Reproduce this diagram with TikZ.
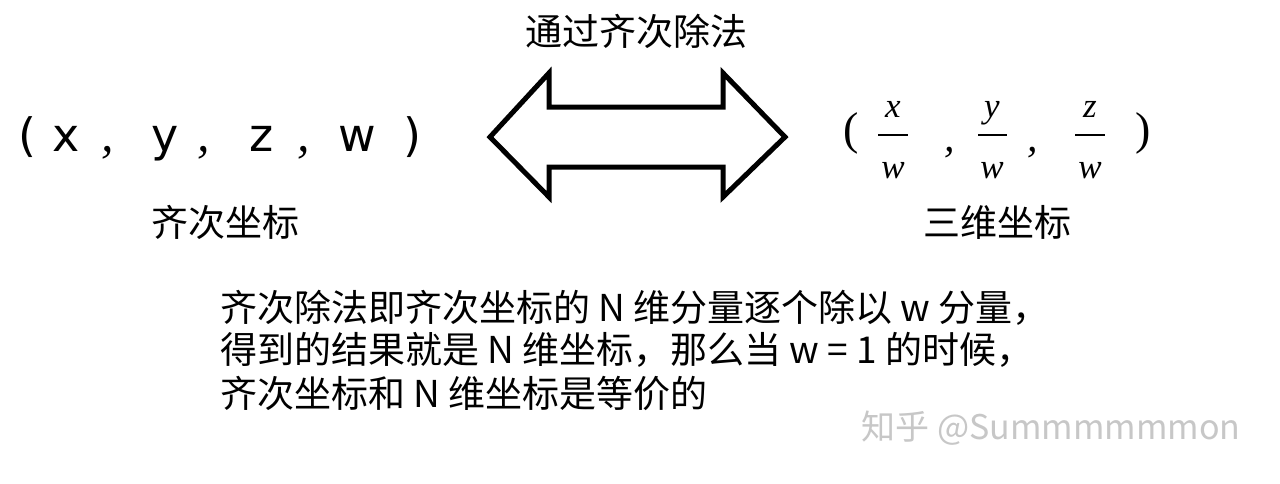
\documentclass[tikz,border=0pt]{standalone}
\usepackage{fontspec}
\setmainfont{Noto Sans CJK SC}
\newfontfamily\tuplefont{DejaVu Sans}
\newfontfamily\mathserif{Liberation Serif}
\begin{document}
\begin{tikzpicture}[x=1pt,y=-1pt,
  cjk/.style={inner sep=0pt, font=\fontsize{37}{44}\selectfont},
  para/.style={inner sep=0pt, anchor=west, font=\fontsize{37}{44}\selectfont},
  tuple/.style={inner sep=0pt, anchor=base, font=\tuplefont\fontsize{46}{52}\selectfont},
  tcomma/.style={inner sep=0pt, anchor=base, font=\mathserif\itshape\fontsize{50}{56}\selectfont},
  letter/.style={inner sep=0pt, anchor=base, font=\mathserif\itshape\fontsize{35}{40}\selectfont},
  fcomma/.style={inner sep=0pt, anchor=base, font=\mathserif\itshape\fontsize{42}{48}\selectfont},
  paren/.style={inner sep=0pt, font=\mathserif\fontsize{46}{50}\selectfont},
  fracbar/.style={line width=2.5pt},
  bigarrow/.style={draw=black, line width=5pt, line join=miter, fill=white},
  watermark/.style={inner sep=0pt, text=black!22, font=\fontsize{34}{40}\selectfont}]
\useasboundingbox[fill=white] (0,0) rectangle (1280,483);

% title
\node[cjk] (title) at (636,31) {通过齐次除法};

% homogeneous coordinates (x, y, z, w)
\node[tuple] (hl) at (27,151) {(};
\node[tuple] (hx) at (66,151) {x};
\node[tcomma] (hc1) at (108,151) {,};
\node[tuple] (hy) at (165,151) {y};
\node[tcomma] (hc2) at (204,151) {,};
\node[tuple] (hz) at (262,151) {z};
\node[tcomma] (hc3) at (304,151) {,};
\node[tuple] (hw) at (357,151) {w};
\node[tuple] (hr) at (412,151) {)};

% double arrow
\coordinate (tipL) at (490,137);
\coordinate (tipR) at (785,137);
\draw[bigarrow] (tipL) -- (549,73) -- (549,107) -- (723,107) -- (723,73)
  -- (tipR) -- (723,197) -- (723,167) -- (549,167) -- (549,197) -- cycle;

% three-dimensional coordinates
\node[paren] (lp) at (851,133) {(};
\node[letter] (nx) at (893,117) {x};
\coordinate (bx1) at (878,135); \coordinate (bx2) at (908,135);
\draw[fracbar] (bx1) -- (bx2);
\node[letter] (dx) at (893,178) {w};
\node[fcomma] (c1) at (950,151) {,};
\node[letter] (ny) at (992,117) {y};
\coordinate (by1) at (978,135); \coordinate (by2) at (1007,135);
\draw[fracbar] (by1) -- (by2);
\node[letter] (dy) at (992,178) {w};
\node[fcomma] (c2) at (1033,151) {,};
\node[letter] (nz) at (1090,117) {z};
\coordinate (bz1) at (1075,135); \coordinate (bz2) at (1105,135);
\draw[fracbar] (bz1) -- (bz2);
\node[letter] (dz) at (1090,178) {w};
\node[paren] (rp) at (1143,133) {)};

\node[cjk] (lab1) at (225,222) {齐次坐标};
\node[cjk] (lab2) at (997,222) {三维坐标};

% paragraph
\node[para] (p1) at (220,308) {齐次除法即齐次坐标的 N 维分量逐个除以 w 分量，};
\node[para] (p2) at (220,350) {得到的结果就是 N 维坐标，那么当 w = 1 的时候，};
\node[para] (p3) at (220,393) {齐次坐标和 N 维坐标是等价的};

% watermark
\node[watermark] (wm) at (1051,428) {知乎 @Summmmmmon};
\end{tikzpicture}
\end{document}
